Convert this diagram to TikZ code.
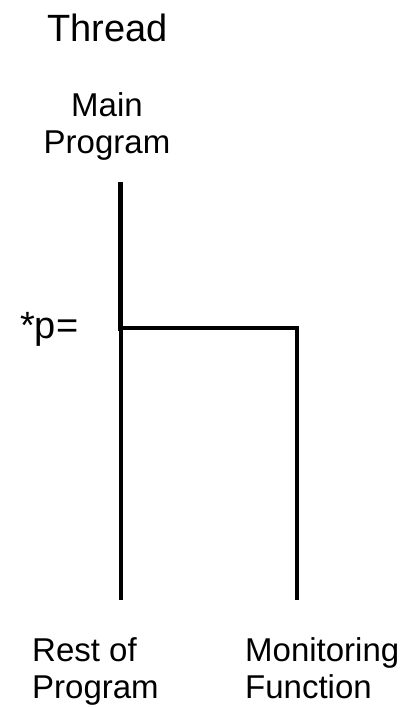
\documentclass[tikz,border=0pt]{standalone}
\usepackage{fontspec}
\setmainfont{Liberation Sans}

\tikzset{
    label text/.style={inner sep=0pt, font=\fontsize{33}{37}\selectfont},
    big text/.style={inner sep=0pt, font=\fontsize{38}{42}\selectfont},
    thread line/.style={black, line width=5pt},
}

\begin{document}
\begin{tikzpicture}[x=1pt, y=-1pt]
    \useasboundingbox (0, 0) rectangle (409, 708);

    \coordinate (top) at (120.5, 185);
    \coordinate (fork) at (120.5, 328);
    \coordinate (corner) at (297, 328);
    \coordinate (restend) at (120.5, 600);
    \coordinate (monend) at (297, 600);

    \node[big text, anchor=base west] (thread) at (47, 42) {Thread};
    \node[label text, anchor=base, align=center] (main) at (107, 154) {Main\\Program};
    \node[big text, anchor=base west] (assign) at (20, 338) {*p=};
    \node[label text, anchor=base west, align=left] (rest) at (32, 698) {Rest of\\Program};
    \node[label text, anchor=base west, align=left] (monitor) at (245, 698) {Monitoring\\Function};

    \draw[thread line, line cap=rect] (top) -- (fork);
    \draw[thread line, line width=4.5pt] (fork) -- (corner) -- (monend);
    \draw[thread line, line width=4pt] (fork) -- (restend);
\end{tikzpicture}
\end{document}
